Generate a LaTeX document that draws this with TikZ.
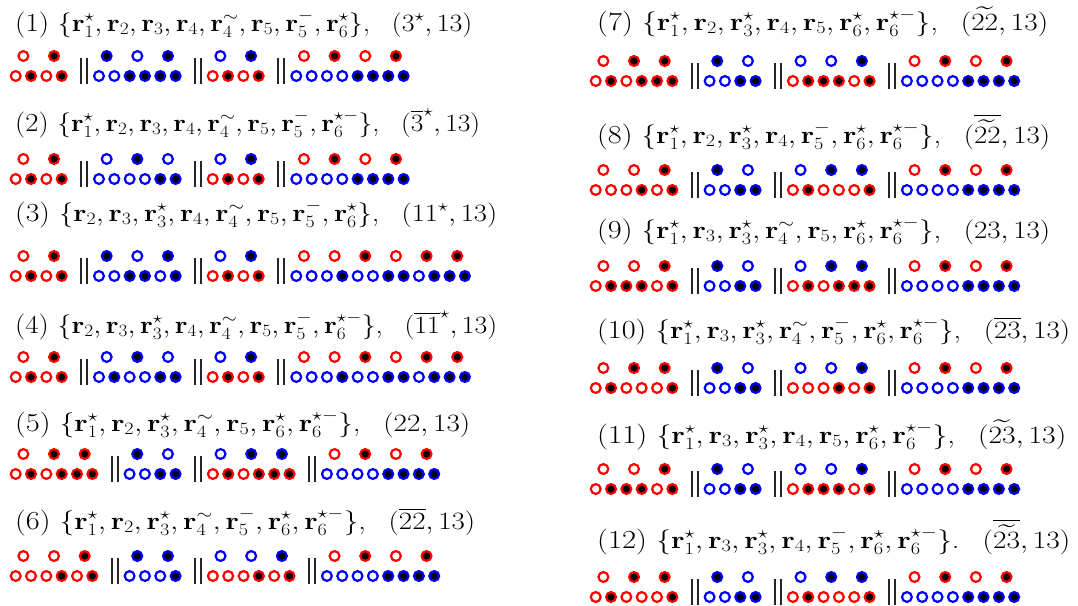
\documentclass[tikz,border=0pt]{standalone}
\usepackage{amsmath,amssymb,graphicx}
\colorlet{w}{white}
\colorlet{k}{black}
\definecolor{rr}{RGB}{255,0,0}
\definecolor{bb}{RGB}{0,0,255}
\tikzset{
 dot/.style={circle, inner sep=0pt, minimum size=9.8pt, line width=2.2pt},
 ttl/.style={anchor=base west, inner sep=0pt, font=\fontsize{26}{29}\selectfont},
 barline/.style={line width=2pt, black!85}
}
\def\sp{15.33}
\newcommand\dotgroup[7]{%
  \foreach \st [count=\i from 0] in {#7}{\node[dot,draw=#6,fill=\st] (#1b\i) at ({#2+\i*\sp},#3) {};}
  \foreach \st [count=\i from 0] in {#5}{\node[dot,draw=#4,fill=\st] (#1t\i) at ({#2+(2*\i+0.5)*\sp},{#3-20}) {};}
}
\newcommand\dbar[3]{%
  \coordinate (#1a1) at ({#2-18},{#3-18}); \coordinate (#1a2) at ({#2-18},{#3+8});
  \coordinate (#1b1) at ({#2-12},{#3-18}); \coordinate (#1b2) at ({#2-12},{#3+8});
  \draw[barline] (#1a1)--(#1a2); \draw[barline] (#1b1)--(#1b2);
}
\newcommand\rowA[3]{\dbar{#1p}{#2+99}{#3}\dbar{#1q}{#2+212.7}{#3}\dbar{#1r}{#2+296.3}{#3}}
\newcommand\rowC[3]{\dbar{#1p}{#2+129.6}{#3}\dbar{#1q}{#2+212.9}{#3}\dbar{#1r}{#2+326.9}{#3}}
\newcommand\rv{\mathbf{r}}
\newcommand\gapq{\hspace{0.75em}}
\newcommand\ttlnode[4]{\node[ttl] (#1) at (#2) {\resizebox{#3pt}{\height}{#4}};}
\begin{document}
\begin{tikzpicture}[x=1pt,y=-1pt]
\useasboundingbox (0,0) rectangle (1078,605);
% ---------- titles ----------
\ttlnode{t1}{15,31}{457}{(1) $\{\rv_1^{\star},\rv_2,\rv_3,\rv_4,\rv_4^{\sim},\rv_5,\rv_5^{-},\rv_6^{\star}\}$,\gapq$(3^{\star},13)$}
\ttlnode{t2}{15,131}{465}{(2) $\{\rv_1^{\star},\rv_2,\rv_3,\rv_4,\rv_4^{\sim},\rv_5,\rv_5^{-},\rv_6^{\star-}\}$,\gapq$(\overline{3}^{\star},13)$}
\ttlnode{t3}{15,221}{482}{(3) $\{\rv_2,\rv_3,\rv_3^{\star},\rv_4,\rv_4^{\sim},\rv_5,\rv_5^{-},\rv_6^{\star}\}$,\gapq$(11^{\star},13)$}
\ttlnode{t4}{15,333}{482}{(4) $\{\rv_2,\rv_3,\rv_3^{\star},\rv_4,\rv_4^{\sim},\rv_5,\rv_5^{-},\rv_6^{\star-}\}$,\gapq$(\overline{11}^{\star},13)$}
\ttlnode{t5}{15,431}{455}{(5) $\{\rv_1^{\star},\rv_2,\rv_3^{\star},\rv_4^{\sim},\rv_5,\rv_6^{\star},\rv_6^{\star-}\}$,\gapq$(22,13)$}
\ttlnode{t6}{15,529}{460}{(6) $\{\rv_1^{\star},\rv_2,\rv_3^{\star},\rv_4^{\sim},\rv_5^{-},\rv_6^{\star},\rv_6^{\star-}\}$,\gapq$(\overline{22},13)$}
\ttlnode{t7}{597,30}{451}{(7) $\{\rv_1^{\star},\rv_2,\rv_3^{\star},\rv_4,\rv_5,\rv_6^{\star},\rv_6^{\star-}\}$,\gapq$(\widetilde{22},13)$}
\ttlnode{t8}{597,143}{453}{(8) $\{\rv_1^{\star},\rv_2,\rv_3^{\star},\rv_4,\rv_5^{-},\rv_6^{\star},\rv_6^{\star-}\}$,\gapq$(\overline{\widetilde{22}},13)$}
\ttlnode{t9}{597,238}{453}{(9) $\{\rv_1^{\star},\rv_3,\rv_3^{\star},\rv_4^{\sim},\rv_5,\rv_6^{\star},\rv_6^{\star-}\}$,\gapq$(23,13)$}
\ttlnode{t10}{597,338}{473}{(10) $\{\rv_1^{\star},\rv_3,\rv_3^{\star},\rv_4^{\sim},\rv_5^{-},\rv_6^{\star},\rv_6^{\star-}\}$,\gapq$(\overline{23},13)$}
\ttlnode{t11}{597,443}{469}{(11) $\{\rv_1^{\star},\rv_3,\rv_3^{\star},\rv_4,\rv_5,\rv_6^{\star},\rv_6^{\star-}\}$,\gapq$(\widetilde{23},13)$}
\ttlnode{t12}{597,548}{473}{(12) $\{\rv_1^{\star},\rv_3,\rv_3^{\star},\rv_4,\rv_5^{-},\rv_6^{\star},\rv_6^{\star-}\}$.\gapq$(\overline{\widetilde{23}},13)$}
% ---------- entry 1 ----------
\dotgroup{ea}{15.7}{76}{rr}{w,k}{rr}{w,k,w,k}
\dotgroup{eb}{99}{76}{bb}{k,w,k}{bb}{w,w,k,k,k,k}
\dotgroup{ec}{212.7}{76}{bb}{w,k}{rr}{w,k,w,k}
\dotgroup{ed}{296.3}{76}{rr}{w,k,w,k}{bb}{w,w,w,w,k,k,k,k}
\rowA{e1}{0}{76}
% ---------- entry 2 ----------
\dotgroup{fa}{15.7}{179}{rr}{w,k}{rr}{w,k,w,k}
\dotgroup{fb}{99}{179}{bb}{w,k,w}{bb}{w,w,w,w,k,k}
\dotgroup{fc}{212.7}{179}{bb}{w,k}{rr}{w,k,w,k}
\dotgroup{fd}{296.3}{179}{rr}{w,k,w,k}{bb}{w,w,w,w,k,k,k,k}
\rowA{e2}{0}{179}
% ---------- entry 3 ----------
\dotgroup{ga}{15.7}{276}{rr}{w,k}{rr}{w,k,w,k}
\dotgroup{gb}{99}{276}{bb}{k,w,k}{bb}{w,w,k,k,w,k}
\dotgroup{gc}{212.7}{276}{bb}{w,k}{rr}{w,k,w,k}
\dotgroup{gd}{296.3}{276}{rr}{w,w,k,w,k,k}{bb}{w,w,w,k,w,w,k,k,w,k,k,k}
\rowA{e3}{0}{276}
% ---------- entry 4 ----------
\dotgroup{ha}{15.7}{377}{rr}{w,k}{rr}{w,k,w,k}
\dotgroup{hb}{99}{377}{bb}{w,k,w}{bb}{w,k,w,w,k,k}
\dotgroup{hc}{212.7}{377}{bb}{w,k}{rr}{w,k,w,k}
\dotgroup{hd}{296.3}{377}{rr}{w,w,k,w,k,k}{bb}{w,w,w,k,w,w,k,k,w,k,k,k}
\rowA{e4}{0}{377}
% ---------- entry 5 ----------
\dotgroup{ia}{15.7}{474}{rr}{w,k,k}{rr}{w,k,w,k,k,k}
\dotgroup{ib}{129.6}{474}{bb}{k,w}{bb}{w,w,k,k}
\dotgroup{ic}{212.9}{474}{bb}{w,k,k}{rr}{w,k,w,k,k,k}
\dotgroup{id}{326.9}{474}{rr}{w,k,w,k}{bb}{w,w,w,w,k,k,k,k}
\rowC{e5}{0}{474}
% ---------- entry 6 ----------
\dotgroup{ja}{15.7}{576}{rr}{w,w,k}{rr}{w,w,w,k,w,k}
\dotgroup{jb}{129.6}{576}{bb}{k,k}{bb}{w,w,w,k}
\dotgroup{jc}{212.9}{576}{bb}{w,w,k}{rr}{w,w,w,k,w,k}
\dotgroup{jd}{326.9}{576}{rr}{w,k,w,k}{bb}{w,w,w,w,k,k,k,k}
\rowC{e6}{0}{576}
% ---------- entry 7 ----------
\dotgroup{ka}{580+15.7}{81}{rr}{w,k,k}{rr}{w,k,w,k,k,k}
\dotgroup{kb}{580+129.6}{81}{bb}{k,w}{bb}{w,w,k,k}
\dotgroup{kc}{580+212.9}{81}{bb}{w,w,k}{rr}{w,k,k,k,w,k}
\dotgroup{kd}{580+326.9}{81}{rr}{w,k,w,k}{bb}{w,w,w,w,k,k,k,k}
\rowC{e7}{580}{81}
% ---------- entry 8 ----------
\dotgroup{la}{580+15.7}{190}{rr}{w,w,k}{rr}{w,w,w,k,w,k}
\dotgroup{lb}{580+129.6}{190}{bb}{k,w}{bb}{w,w,k,k}
\dotgroup{lc}{580+212.9}{190}{bb}{w,k,k}{rr}{w,k,w,w,w,k}
\dotgroup{ld}{580+326.9}{190}{rr}{w,k,w,k}{bb}{w,w,w,w,k,k,k,k}
\rowC{e8}{580}{190}
% ---------- entry 9 ----------
\dotgroup{ma}{580+15.7}{286}{rr}{w,w,k}{rr}{w,k,k,k,w,k}
\dotgroup{mb}{580+129.6}{286}{bb}{k,w}{bb}{w,w,k,k}
\dotgroup{mc}{580+212.9}{286}{bb}{w,k,k}{rr}{w,k,w,k,k,k}
\dotgroup{md}{580+326.9}{286}{rr}{w,k,w,k}{bb}{w,w,w,w,k,k,k,k}
\rowC{e9}{580}{286}
% ---------- entry 10 ----------
\dotgroup{na}{580+15.7}{388}{rr}{w,k,k}{rr}{w,k,w,w,w,k}
\dotgroup{nb}{580+129.6}{388}{bb}{k,w}{bb}{w,w,k,k}
\dotgroup{nc}{580+212.9}{388}{bb}{w,w,k}{rr}{w,w,w,k,w,k}
\dotgroup{nd}{580+326.9}{388}{rr}{w,k,w,k}{bb}{w,w,w,w,k,k,k,k}
\rowC{e10}{580}{388}
% ---------- entry 11 ----------
\dotgroup{oa}{580+15.7}{489}{rr}{w,w,k}{rr}{w,k,k,k,w,k}
\dotgroup{ob}{580+129.6}{489}{bb}{k,w}{bb}{w,w,k,k}
\dotgroup{oc}{580+212.9}{489}{bb}{w,w,k}{rr}{w,k,k,k,w,k}
\dotgroup{od}{580+326.9}{489}{rr}{w,k,w,k}{bb}{w,w,w,w,k,k,k,k}
\rowC{e11}{580}{489}
% ---------- entry 12 ----------
\dotgroup{pa}{580+15.7}{597}{rr}{w,k,k}{rr}{w,k,w,w,w,k}
\dotgroup{pb}{580+129.6}{597}{bb}{k,w}{bb}{w,w,k,k}
\dotgroup{pc}{580+212.9}{597}{bb}{w,k,k}{rr}{w,k,w,w,w,k}
\dotgroup{pd}{580+326.9}{597}{rr}{w,k,w,k}{bb}{w,w,w,w,k,k,k,k}
\rowC{e12}{580}{597}
\end{tikzpicture}
\end{document}
